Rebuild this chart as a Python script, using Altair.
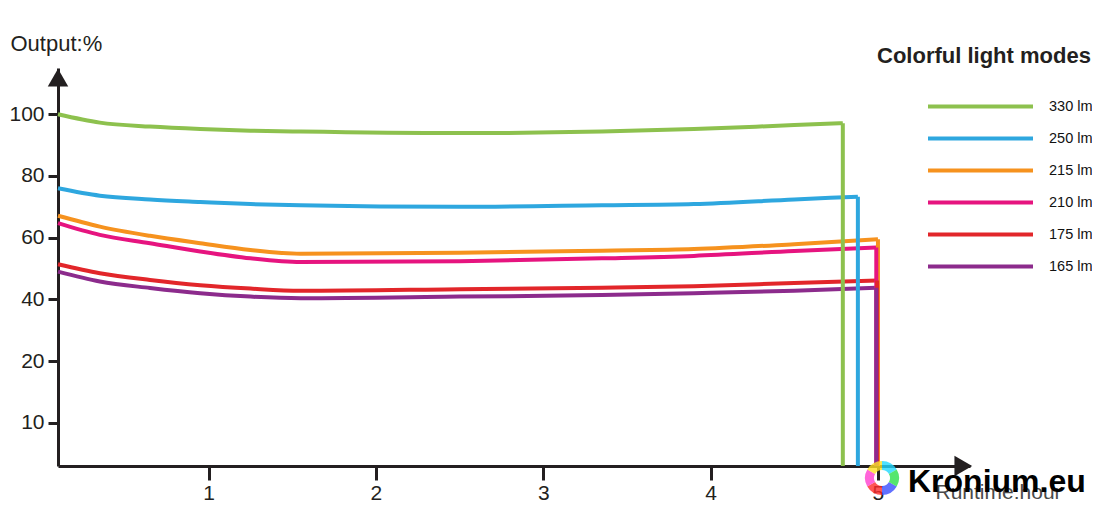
import altair as alt
import pandas as pd

# ---------------- data ----------------
series = ["330 lm", "250 lm", "215 lm", "210 lm", "175 lm", "165 lm"]
colors = ["#8dc14e", "#2ea7df", "#f6921e", "#e6147f", "#e2262a", "#8c2b8c"]

hours = [0.1, 0.35, 0.65, 0.95, 1.25, 1.55, 2.5, 3.35, 3.9, 4.5]
end_hours = [4.79, 4.88, 5.0, 4.99, 4.995, 4.99]

out_330 = [100.0, 97.3, 96.0, 95.2, 94.7, 94.4, 93.9, 94.4, 95.2, 96.5, 97.1]
out_250 = [76.0, 73.6, 72.4, 71.6, 70.9, 70.5, 70.0, 70.5, 70.9, 72.4, 73.3]
out_215 = [67.1, 63.6, 60.6, 58.2, 56.0, 54.8, 55.1, 55.8, 56.3, 57.9, 59.5]
out_210 = [64.7, 60.9, 58.2, 55.5, 53.3, 52.1, 52.4, 53.3, 54.1, 55.7, 56.8]
out_175 = [51.4, 48.5, 46.3, 44.6, 43.5, 42.8, 43.3, 43.8, 44.3, 45.3, 46.1]
out_165 = [49.0, 45.8, 43.7, 42.0, 40.9, 40.4, 40.9, 41.4, 42.0, 42.8, 43.8]
outputs = [out_330, out_250, out_215, out_210, out_175, out_165]

x_ticks = [1, 2, 3, 4, 5]
y_ticks = [0, 20, 40, 60, 80, 100]
y_tick_labels = ["10", "20", "40", "60", "80", "100"]

X_MIN, X_MAX = 0.1, 5.55
Y_MIN, Y_MAX = -14.0, 115.0

logo_parts = [1, 1, 1, 1, 1, 1]
logo_colors = ["#ff2a2a", "#ff3fd0", "#3a4dff", "#22d8ff", "#2be04a", "#ffe024"]

# ---------------- tables ----------------
rows = []
ends = []
for si, (name, vals, xe) in enumerate(zip(series, outputs, end_hours)):
    xs = hours + [xe]
    for i, (h, v) in enumerate(zip(xs, vals)):
        rows.append({"series": name, "hour": h, "out": v, "k": si, "i": i})
    ends.append({"series": name, "hour": xe, "out": vals[-1], "bottom": Y_MIN, "k": si})
df = pd.DataFrame(rows)
df_end = pd.DataFrame(ends)

label_expr = "{" + ",".join(f"'{v}':'{l}'" for v, l in zip(y_ticks, y_tick_labels)) + "}[datum.value]"

FONT = "Liberation Sans"
INK = "#231f20"

xscale = alt.Scale(domain=[X_MIN, X_MAX], nice=False, zero=False)
yscale = alt.Scale(domain=[Y_MIN, Y_MAX], nice=False, zero=False)
cscale = alt.Scale(domain=series, range=colors)

x_axis = alt.Axis(
    values=x_ticks, format="d", grid=False, domainColor=INK, domainWidth=3,
    tickColor=INK, tickWidth=3, tickSize=14, labelFontSize=21, labelFont=FONT,
    labelColor=INK, labelPadding=2, title="Runtime:hour", titleFont=FONT,
    titleFontSize=21, titleFontWeight="normal", titleColor="#4a4a4a",
    titleAnchor="start", titleAlign="left", titleX=877, titleY=32,
    titleBaseline="alphabetic",
)
y_axis = alt.Axis(
    values=y_ticks, labelExpr=label_expr, grid=False, domainColor=INK,
    domainWidth=3, tickColor=INK, tickWidth=3, tickSize=10, labelFontSize=21,
    labelFont=FONT, labelColor=INK, labelPadding=4, title="Output:%",
    titleFont=FONT, titleFontSize=22, titleFontWeight="normal", titleColor=INK,
    titleAngle=0, titleAlign="left", titleX=-48, titleY=-18,
    titleBaseline="alphabetic",
)

lines = alt.Chart(df).mark_line(strokeWidth=4, interpolate="monotone").encode(
    x=alt.X("hour:Q", scale=xscale, axis=x_axis),
    y=alt.Y("out:Q", scale=yscale, axis=y_axis),
    color=alt.Color(
        "series:N", scale=cscale, sort=series,
        legend=alt.Legend(
            title="Colorful light modes", orient="none", legendX=819,
            legendY=-22, titleFont=FONT, titleFontSize=22, titleFontWeight="bold",
            titleColor=INK, titlePadding=26, titleLimit=400,
            symbolType="M-5,0H5", symbolSize=441, symbolStrokeWidth=4,
            symbolOffset=91, labelFont=FONT, labelFontSize=14.5,
            labelColor="#111111", labelOffset=56, labelLimit=200, rowPadding=11,
        ),
    ),
    detail="k:N",
    order="i:Q",
)

drops = alt.Chart(df_end).mark_rule(strokeWidth=4).encode(
    x="hour:Q", y="out:Q", y2="bottom:Q",
    color=alt.Color("series:N", scale=cscale, legend=None),
)

arrows = pd.DataFrame({
    "hour": [X_MIN, X_MAX - 0.04],
    "out": [Y_MAX - 3.1, Y_MIN],
    "shape": ["triangle-up", "triangle-right"],
})
arrow_marks = alt.Chart(arrows).mark_point(filled=True, size=420, opacity=1, color=INK).encode(
    x="hour:Q", y="out:Q",
    shape=alt.Shape("shape:N", scale=None),
)

logo = alt.Chart(pd.DataFrame({"p": logo_parts, "c": logo_colors})).mark_arc(
    innerRadius=8, outerRadius=17, opacity=0.8
).encode(
    theta=alt.Theta("p:Q", stack=True),
    fill=alt.Fill("c:N", scale=None, legend=None),
    x=alt.value(824), y=alt.value(410),
)

watermark = alt.Chart(pd.DataFrame({"t": ["Kronium.eu"]})).mark_text(
    font=FONT, fontSize=32, fontWeight="bold", color="#000000",
    align="left", baseline="alphabetic",
).encode(text="t:N", x=alt.value(850), y=alt.value(424))

chart = alt.layer(lines, drops, arrow_marks, logo, watermark).properties(
    width=912, height=398,
    autosize=alt.AutoSizeParams(type="none"),
    padding={"left": 50, "top": 60, "right": 122, "bottom": 36},
    background="white",
).configure_view(stroke=None)

chart.save("out.html", embed_options={"renderer": "svg", "actions": False})
